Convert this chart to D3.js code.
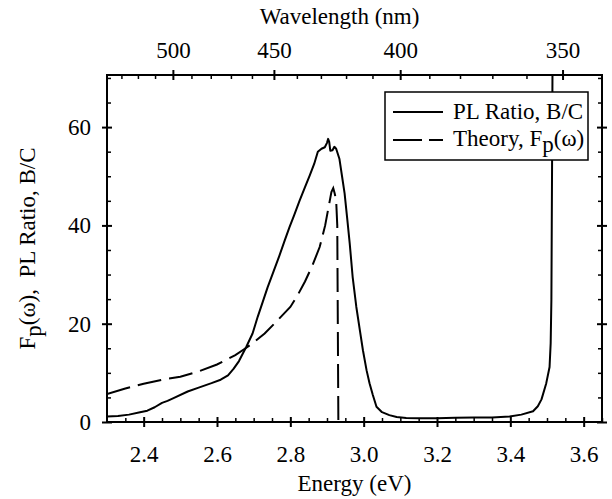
<!DOCTYPE html>
<html>
<head>
<meta charset="utf-8">
<script src="https://cdn.jsdelivr.net/npm/d3@7"></script>
<style>
  html, body { margin: 0; padding: 0; background: #fff; }
  svg { display: block; }
  svg text { font-family: "Liberation Serif", "DejaVu Serif", serif !important; fill: #000; }
</style>
</head>
<body>
<script>
// ---------- data ----------
const plEnergy = [2.30, 2.33, 2.36, 2.39, 2.41, 2.43, 2.45, 2.465, 2.48, 2.52, 2.55, 2.585, 2.61, 2.63, 2.645,
  2.66, 2.68, 2.697, 2.711, 2.725, 2.738, 2.752, 2.77, 2.785, 2.798, 2.81, 2.825, 2.84, 2.853, 2.865,
  2.875, 2.885, 2.894, 2.900, 2.903, 2.906, 2.909, 2.915, 2.920, 2.925, 2.934, 2.941, 2.948, 2.955,
  2.962, 2.970, 2.980, 2.990, 2.998, 3.008, 3.016, 3.025, 3.035, 3.050, 3.070, 3.090, 3.116, 3.150,
  3.200, 3.250, 3.300, 3.350, 3.398, 3.430, 3.462, 3.475, 3.485, 3.498, 3.507, 3.510, 3.512, 3.513,
  3.514, 3.515];
const plRatio = [1.1, 1.2, 1.5, 2.0, 2.3, 3.0, 3.9, 4.3, 4.8, 6.2, 7.0, 7.9, 8.6, 9.5, 10.8,
  12.4, 15.3, 18.0, 21.4, 24.5, 27.4, 30.2, 33.8, 37.0, 39.7, 42.0, 45.0, 47.8, 50.2, 52.5,
  55.0, 55.6, 55.9, 56.8, 57.6, 57.0, 55.2, 55.3, 56.0, 55.6, 53.5, 50.0, 46.5, 41.5,
  36.3, 29.5, 23.4, 18.5, 14.6, 10.5, 7.9, 5.5, 3.1, 2.0, 1.4, 1.0, 0.8, 0.75,
  0.75, 0.85, 0.9, 0.9, 1.1, 1.5, 2.2, 3.2, 4.6, 7.9, 11.2, 16, 25, 40,
  55, 72];

const theoryEnergy = [2.30, 2.35, 2.40, 2.45, 2.50, 2.55, 2.60, 2.65, 2.68, 2.70, 2.73, 2.76, 2.80, 2.82,
  2.84, 2.86, 2.88, 2.895, 2.905, 2.912, 2.917, 2.921, 2.925, 2.928, 2.931];
const theoryFp = [5.7, 6.8, 7.8, 8.6, 9.2, 10.3, 11.7, 13.6, 15.1, 16.2, 18.0, 20.3, 23.4, 25.8,
  28.6, 31.8, 35.6, 40.0, 44.0, 46.8, 47.6, 46.5, 45.0, 40.0, 0];

const energyTicks = [2.4, 2.6, 2.8, 3.0, 3.2, 3.4, 3.6];
const energyMinor = [2.35, 2.45, 2.5, 2.55, 2.65, 2.7, 2.75, 2.85, 2.9, 2.95, 3.05, 3.1, 3.15, 3.25, 3.3, 3.35, 3.45, 3.5, 3.55, 3.65];
const yTicks = [0, 20, 40, 60];
const yMinor = [5, 10, 15, 25, 30, 35, 45, 50, 55, 65, 70];
const wavelengthTicks = [500, 450, 400, 350];
const wavelengthMinor = [530, 520, 510, 490, 480, 470, 460, 440, 430, 420, 410, 390, 380, 370, 360, 340];

// ---------- layout ----------
const W = 612, H = 499;
const L = 107, R = 602, T = 75, B = 422;
const x = d3.scaleLinear().domain([2.3, 3.65]).range([L, R]);
const y = d3.scaleLinear().domain([0, 70.6]).range([B, T]);
const hc = 1239.84;

const svg = d3.select("body").append("svg").attr("width", W).attr("height", H);
svg.append("defs").append("clipPath").attr("id", "clip")
  .append("rect").attr("x", L).attr("y", T).attr("width", R - L).attr("height", B - T);

const FS = 23;
const SERIF = '"Liberation Serif", "DejaVu Serif", serif';
const MAJ = 5, MIN = 4;

// curves
const plData = plEnergy.map((e, i) => [e, plRatio[i]]);
const thData = theoryEnergy.map((e, i) => [e, theoryFp[i]]);
const line = d3.line().x(d => x(d[0])).y(d => y(d[1]));
const g = svg.append("g").attr("clip-path", "url(#clip)");
g.append("path").datum(thData).attr("d", line).attr("fill", "none")
  .attr("stroke", "#000").attr("stroke-width", 2).attr("stroke-dasharray", "24,8");
g.append("path").datum(plData).attr("d", line).attr("fill", "none")
  .attr("stroke", "#000").attr("stroke-width", 2).attr("stroke-linejoin", "round");

// axes
function styleAxis(sel) {
  sel.attr("font-family", SERIF).attr("font-size", FS);
  sel.select(".domain").remove();
  sel.selectAll("text").attr("font-size", FS).style("font-family", SERIF);
}
// bottom major
const axB = svg.append("g").attr("transform", `translate(0,${B})`)
  .call(d3.axisBottom(x).tickValues(energyTicks).tickFormat(d3.format(".1f")).tickSize(MAJ).tickPadding(19));
styleAxis(axB);
axB.selectAll(".tick line").attr("y1", -MAJ).attr("y2", MAJ).attr("stroke-width", 2);
// bottom minor
svg.append("g").attr("transform", `translate(0,${B})`)
  .call(d3.axisBottom(x).tickValues(energyMinor).tickFormat("").tickSize(-MIN))
  .call(s => s.select(".domain").remove())
  .selectAll(".tick line").attr("stroke-width", 1.5);

// left
const axL = svg.append("g").attr("transform", `translate(${L},0)`)
  .call(d3.axisLeft(y).tickValues(yTicks).tickSize(MAJ).tickPadding(11));
styleAxis(axL);
axL.selectAll(".tick line").attr("x1", -MAJ).attr("x2", MAJ).attr("stroke-width", 2);
svg.append("g").attr("transform", `translate(${L},0)`)
  .call(d3.axisLeft(y).tickValues(yMinor).tickFormat("").tickSize(-MIN))
  .call(s => s.select(".domain").remove())
  .selectAll(".tick line").attr("stroke-width", 1.5);

// right
const axR = svg.append("g").attr("transform", `translate(${R},0)`)
  .call(d3.axisRight(y).tickValues(yTicks).tickFormat("").tickSize(MAJ));
axR.select(".domain").remove();
axR.selectAll(".tick line").attr("x1", -MAJ).attr("x2", MAJ).attr("stroke-width", 2);
svg.append("g").attr("transform", `translate(${R},0)`)
  .call(d3.axisRight(y).tickValues(yMinor).tickFormat("").tickSize(-MIN))
  .call(s => s.select(".domain").remove())
  .selectAll(".tick line").attr("stroke-width", 1.5);

// top (wavelength)
const axT = svg.append("g").attr("transform", `translate(0,${T})`)
  .call(d3.axisTop(x).tickValues(wavelengthTicks.map(nm => hc / nm)).tickFormat((d, i) => wavelengthTicks[i]).tickSize(MAJ).tickPadding(12));
styleAxis(axT);
axT.selectAll(".tick line").attr("y1", -MAJ).attr("y2", MAJ).attr("stroke-width", 2);
svg.append("g").attr("transform", `translate(0,${T})`)
  .call(d3.axisTop(x).tickValues(wavelengthMinor.map(nm => hc / nm).filter(e => e < 3.645)).tickFormat("").tickSize(-MIN))
  .call(s => s.select(".domain").remove())
  .selectAll(".tick line").attr("stroke-width", 1.5);

// frame
svg.append("rect").attr("x", L).attr("y", T).attr("width", R - L).attr("height", B - T)
  .attr("fill", "none").attr("stroke", "#000").attr("stroke-width", 2);

// axis titles
svg.append("text").attr("x", (L + R) / 2).attr("y", 491).attr("text-anchor", "middle")
  .attr("font-size", FS).text("Energy (eV)");
svg.append("text").attr("x", (L + R) / 2 - 15).attr("y", 24).attr("text-anchor", "middle")
  .attr("font-size", FS).text("Wavelength (nm)");
const yl = svg.append("text").attr("transform", `translate(35,${(T + B) / 2}) rotate(-90)`)
  .attr("text-anchor", "middle").attr("font-size", FS);
yl.append("tspan").text("F");
yl.append("tspan").attr("dy", 6).text("p");
yl.append("tspan").attr("dy", -6).text("(\u03C9),\u00A0\u00A0PL Ratio, B/C");

// legend
const lg = svg.append("g");
lg.append("rect").attr("x", 385).attr("y", 92).attr("width", 203).attr("height", 68)
  .attr("fill", "#fff").attr("stroke", "#000").attr("stroke-width", 1.5);
lg.append("line").attr("x1", 393).attr("x2", 443).attr("y1", 112).attr("y2", 112)
  .attr("stroke", "#000").attr("stroke-width", 2);
lg.append("line").attr("x1", 393).attr("x2", 443).attr("y1", 140).attr("y2", 140)
  .attr("stroke", "#000").attr("stroke-width", 2).attr("stroke-dasharray", "29,7");
lg.append("text").attr("x", 453).attr("y", 119).attr("font-size", FS).text("PL Ratio, B/C");
const lt = lg.append("text").attr("x", 453).attr("y", 146).attr("font-size", FS);
lt.append("tspan").text("Theory, F");
lt.append("tspan").attr("dy", 6).text("p");
lt.append("tspan").attr("dy", -6).text("(\u03C9)");
</script>
</body>
</html>
